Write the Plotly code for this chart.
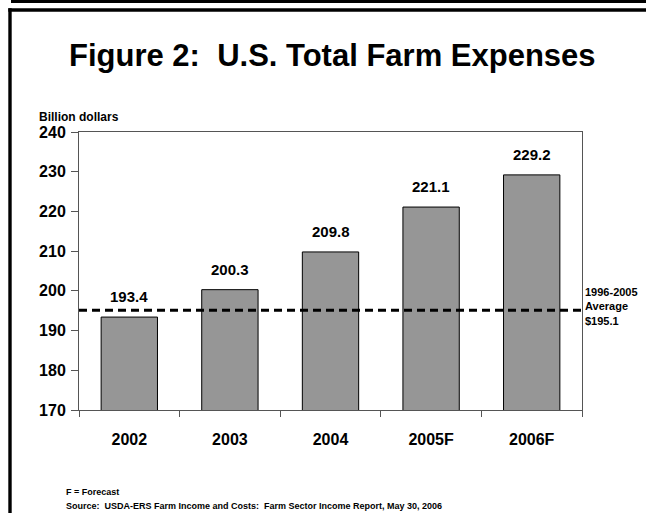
import plotly.graph_objects as go

categories = ["2002", "2003", "2004", "2005F", "2006F"]
expenses = [193.4, 200.3, 209.8, 221.1, 229.2]
average_value = 195.1
average_label = "1996-2005<br>Average<br>$195.1"
title_text = "Figure 2:  U.S. Total Farm Expenses"
y_title = "Billion dollars"
foot1 = "F = Forecast"
foot2 = "Source:  USDA-ERS Farm Income and Costs:  Farm Sector Income Report, May 30, 2006"

W, H = 646, 513
L, R, T, B = 79, 582, 132, 410
pw, ph = R - L, B - T

def px(x):
    return (x - L) / pw

def py(y):
    return (B - y) / ph

FONT = "Liberation Sans, Arial, Helvetica, sans-serif"

fig = go.Figure()
fig.add_trace(go.Bar(
    x=categories, y=expenses,
    marker=dict(color="#969696", line=dict(color="#000000", width=1)),
    width=0.56,
    hoverinfo="skip",
))

shapes = [
    dict(type="line", xref="paper", x0=0, x1=1, yref="y", y0=average_value, y1=average_value,
         line=dict(color="black", width=3, dash="8px,5px")),
    # decorative frame
    dict(type="line", xref="paper", yref="paper", x0=px(11), x1=px(660), y0=py(1.5), y1=py(1.5),
         line=dict(color="black", width=3), layer="above"),
    dict(type="line", xref="paper", yref="paper", x0=px(8.3), x1=px(660), y0=py(10), y1=py(10),
         line=dict(color="black", width=3.4), layer="above"),
    dict(type="line", xref="paper", yref="paper", x0=px(10), x1=px(10), y0=py(8.3), y1=py(530),
         line=dict(color="black", width=3.4), layer="above"),
]

annotations = [
    dict(text=f"<b>{v:.1f}</b>", x=i, y=v, xref="x", yref="y",
         xanchor="center", yanchor="bottom", yshift=10, showarrow=False,
         font=dict(family=FONT, size=15, color="black"))
    for i, v in enumerate(expenses)
] + [
    dict(text=f"<b>{title_text}</b>", xref="paper", yref="paper", x=px(332), y=py(56),
         xanchor="center", yanchor="middle", showarrow=False,
         font=dict(family=FONT, size=31, color="black")),
    dict(text=f"<b>{y_title}</b>", xref="paper", yref="paper", x=px(37), y=py(117),
         xanchor="left", yanchor="middle", showarrow=False,
         font=dict(family=FONT, size=12, color="black")),
    dict(text=f"<b>{average_label}</b>", xref="paper", yref="paper", x=px(583), y=py(306),
         xanchor="left", yanchor="middle", align="left", showarrow=False,
         font=dict(family=FONT, size=11, color="black")),
    dict(text=f"<b>{foot1}</b>", xref="paper", yref="paper", x=px(64), y=py(492),
         xanchor="left", yanchor="middle", showarrow=False,
         font=dict(family=FONT, size=9, color="black")),
    dict(text=f"<b>{foot2}</b>", xref="paper", yref="paper", x=px(64), y=py(506),
         xanchor="left", yanchor="middle", showarrow=False,
         font=dict(family=FONT, size=9, color="black")),
]

fig.update_layout(
    width=W, height=H,
    margin=dict(l=L, r=W - R, t=T, b=H - B, pad=0),
    paper_bgcolor="white", plot_bgcolor="white",
    showlegend=False,
    bargap=0.44,
    shapes=shapes,
    annotations=annotations,
    font=dict(family=FONT, color="black"),
)
fig.update_xaxes(
    type="category", categoryorder="array", categoryarray=categories,
    range=[-0.5, len(categories) - 0.5],
    showgrid=False, zeroline=False,
    showline=True, linecolor="#555555", linewidth=1, mirror=True,
    ticks="outside", tickson="boundaries", ticklen=6, tickcolor="#555555",
    tickfont=dict(family=FONT, size=16, color="black", weight="bold"),
    ticklabelstandoff=15,
)
fig.update_yaxes(
    range=[170, 240], dtick=10, tick0=170,
    showgrid=False, zeroline=False,
    showline=True, linecolor="#555555", linewidth=1, mirror=True,
    ticks="outside", ticklen=7, tickcolor="#555555",
    tickfont=dict(family=FONT, size=16, color="black", weight="bold"),
    ticklabelstandoff=2,
)

fig.write_html("out.html", config={"displayModeBar": False})
